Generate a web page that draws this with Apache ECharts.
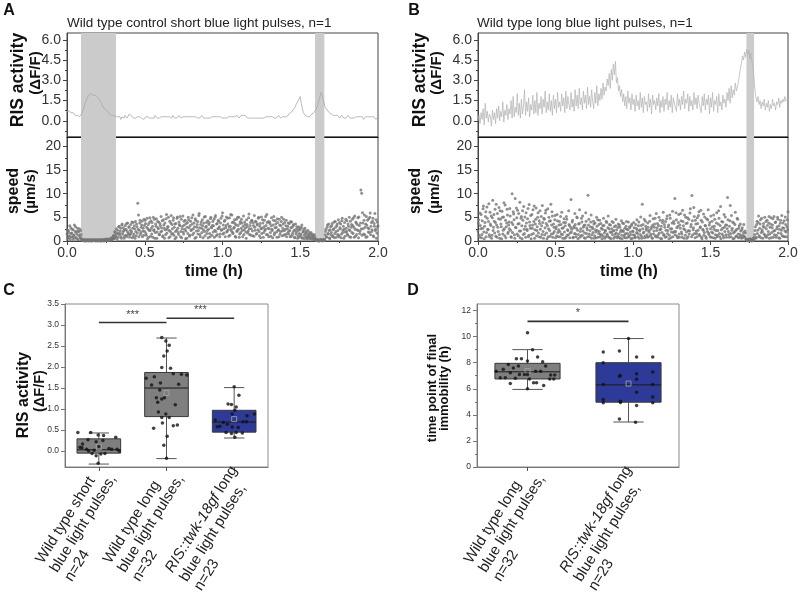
<!DOCTYPE html>
<html><head><meta charset="utf-8">
<script src="https://cdn.jsdelivr.net/npm/echarts@6/dist/echarts.min.js"></script>
<style>html,body{margin:0;padding:0;background:#fff}#c{width:800px;height:595px}</style>
</head><body><div id="c"></div><script>
// ---------- DATA ----------
// RIS activity traces (ΔF/F), sampled evenly over 0–2 h
const risA = [
0.7,0.6,0.7,0.6,0.6,0.5,0.6,0.5,0.4,0.5,0.4,0.5,0.3,0.4,0.5,0.7,0.9,1.2,1.4,1.6,
1.7,1.9,1.9,2.0,2.1,1.9,2.0,1.9,2.0,1.8,1.8,1.6,1.5,1.3,1.2,1.0,0.9,0.8,0.7,0.7,
0.6,0.5,0.6,0.4,0.5,0.4,0.3,0.3,0.2,0.3,0.2,0.3,0.1,0.3,0.2,0.2,0.4,0.3,0.2,0.3,
0.5,0.6,0.4,0.3,0.2,0.3,0.2,0.1,0.3,0.2,0.3,0.2,0.2,0.3,0.1,0.2,0.3,0.2,0.3,0.2,
0.2,0.3,0.2,0.3,0.2,0.4,0.3,0.2,0.3,0.2,0.3,0.3,0.2,0.3,0.4,0.3,0.2,0.3,0.2,0.3,
0.3,0.2,0.4,0.3,0.2,0.3,0.2,0.3,0.4,0.3,0.2,0.3,0.3,0.2,0.3,0.2,0.3,0.4,0.3,0.2,
0.3,0.2,0.3,0.2,0.3,0.3,0.2,0.3,0.2,0.3,0.4,0.3,0.2,0.3,0.2,0.3,0.2,0.3,0.2,0.3,
0.3,0.2,0.3,0.2,0.3,0.2,0.3,0.2,0.3,0.2,0.2,0.3,0.2,0.3,0.2,0.3,0.3,0.2,0.3,0.2,
0.3,0.2,0.3,0.3,0.4,0.3,0.2,0.3,0.4,0.3,0.4,0.5,0.4,0.3,0.2,0.3,0.2,0.3,0.2,0.3,
0.2,0.3,0.2,0.1,0.2,0.3,0.2,0.3,0.2,0.3,0.2,0.2,0.3,0.2,0.3,0.2,0.3,0.2,0.3,0.3,
0.2,0.3,0.2,0.3,0.4,0.3,0.2,0.3,0.3,0.4,0.3,0.4,0.3,0.4,0.5,0.4,0.6,0.7,0.8,0.9,
1.0,1.2,1.3,1.5,1.6,1.8,1.3,0.9,0.6,0.5,0.4,0.3,0.3,0.4,0.3,0.4,0.5,0.5,0.6,0.7,
0.8,1.0,1.2,1.5,1.8,2.1,1.9,1.6,1.3,1.0,0.9,0.8,0.7,0.6,0.6,0.5,0.5,0.4,0.5,0.4,
0.3,0.4,0.3,0.2,0.3,0.4,0.3,0.2,0.3,0.2,0.3,0.4,0.3,0.2,0.3,0.2,0.3,0.2,0.1,0.3,
0.2,0.3,0.2,0.3,0.2,0.3,0.1,0.2,0.3,0.2,0.3,0.2,0.3,0.2,0.3,0.2,0.3,0.2,0.1,0.2,
0.3];
const risB = [
0.0,0.4,-0.2,0.6,0.1,0.9,-0.3,1.3,0.2,0.7,-0.1,0.5,0.3,-0.4,0.8,0.1,0.6,-0.2,0.9,0.2,
1.1,0.0,0.7,0.3,1.4,-0.1,0.8,0.4,1.2,0.1,0.9,0.5,1.5,0.2,1.8,0.3,1.0,0.6,2.0,0.4,
1.3,0.2,1.6,0.5,1.1,2.3,0.4,1.4,0.7,1.7,0.3,1.2,0.8,1.9,0.5,1.5,0.6,2.1,0.4,1.3,
0.9,1.8,0.5,1.6,1.0,2.2,0.6,1.4,0.8,2.0,0.7,1.5,0.4,1.9,0.9,1.6,0.6,2.1,1.0,1.4,
0.7,2.0,1.1,1.7,0.6,2.2,0.9,1.8,1.2,0.8,2.1,1.0,1.6,0.7,2.3,1.1,1.9,0.9,2.4,1.2,
1.7,0.8,2.2,1.3,1.9,0.9,2.5,1.2,1.8,1.0,2.3,1.4,0.9,2.1,1.3,2.6,1.1,2.0,1.5,2.4,
1.6,2.8,1.9,2.5,2.2,3.1,2.6,3.5,2.4,3.8,3.0,4.2,3.4,4.4,2.8,3.2,2.2,2.6,1.8,2.3,
1.4,2.0,1.1,1.8,0.9,2.2,1.3,1.7,0.8,2.0,1.2,1.6,0.7,1.9,1.1,1.5,0.8,2.1,1.0,1.7,
0.6,1.8,1.2,1.4,0.7,2.0,1.0,1.6,0.5,1.9,1.2,1.5,0.8,1.7,1.1,2.0,0.6,1.5,1.0,1.8,
0.7,1.6,1.2,2.1,0.8,1.5,1.0,1.9,0.6,1.7,1.3,1.4,0.7,2.0,1.1,1.6,0.8,1.8,1.2,2.2,
0.9,1.6,1.3,2.0,0.7,1.8,1.1,1.5,0.8,2.1,1.2,1.7,0.9,1.9,1.3,1.4,0.6,1.8,1.1,2.0,
0.8,1.6,1.2,1.9,0.5,1.7,1.0,2.1,0.7,1.5,1.2,1.8,0.6,2.0,1.1,1.4,0.8,1.9,1.3,1.6,
1.0,2.1,1.5,2.4,1.3,2.6,1.7,2.3,1.9,2.8,2.2,2.5,2.9,3.4,3.9,4.3,4.8,4.5,5.1,4.7,
5.3,4.9,5.2,4.6,5.0,4.4,4.1,3.2,2.3,1.7,1.4,1.8,1.2,1.5,0.9,1.4,1.1,1.6,0.8,1.3,
1.0,1.5,0.7,1.2,0.9,1.6,1.1,1.3,0.8,1.4,1.2,1.7,1.0,1.5,1.3,1.6,1.4,1.8,1.5,1.6,
1.5];
// speed (µm/s): two interleaved readings per step over 0–2 h
const speedA = [
1.5,0.8,2.2,1.1,0.4,2.8,1.7,0.9,2.4,1.3,0.6,3.0,1.9,0.5,2.1,1.2,2.6,0.7,1.4,0.2,
0.3,0.1,0.2,0.1,0.0,0.2,0.1,0.3,0.1,0.2,0.0,0.1,0.2,0.1,0.3,0.1,0.2,0.0,0.1,0.2,
0.1,0.3,0.2,0.1,0.0,0.2,0.1,0.3,0.2,0.1,0.4,0.2,0.1,0.3,0.2,0.5,0.3,0.2,0.6,0.4,
1.2,0.7,1.8,0.9,1.5,2.3,0.8,3.1,1.6,2.7,0.6,3.6,1.9,2.2,1.0,3.3,2.5,0.9,3.8,1.7,
2.9,1.3,3.5,2.0,0.7,3.9,1.5,2.6,4.1,1.1,3.0,8.0,5.5,2.3,4.4,1.8,3.4,0.9,2.7,4.6,
2.0,3.7,1.2,4.8,2.6,0.8,3.9,2.2,4.3,1.5,3.1,5.0,2.4,0.6,3.6,4.7,1.9,2.8,4.0,1.3,
3.3,5.2,2.1,0.9,4.5,2.7,3.8,1.4,5.6,2.5,3.0,0.7,4.2,2.0,5.4,3.5,1.6,4.9,2.9,0.5,
3.7,2.3,5.1,1.8,4.0,3.2,0.9,4.6,2.6,5.3,1.5,3.4,4.4,2.1,0.6,3.9,5.0,2.8,1.2,4.2,
2.4,3.6,5.5,1.7,3.0,4.7,0.8,2.9,4.1,2.2,5.8,1.4,3.5,2.7,4.5,0.7,3.8,2.0,5.2,3.1,
1.6,4.3,2.5,3.9,0.9,5.0,2.8,3.3,1.9,4.6,2.3,5.4,1.1,3.7,2.6,4.2,3.0,1.5,4.8,2.4,
6.0,3.4,1.7,4.4,2.8,5.1,2.1,3.6,1.0,4.9,3.1,2.5,5.5,1.8,4.0,2.9,3.7,0.8,4.6,2.2,
3.3,5.0,1.5,4.1,2.7,3.8,0.9,5.3,2.4,3.5,1.9,4.5,3.0,2.1,5.7,1.4,3.9,2.6,4.3,1.1,
3.2,5.4,2.3,4.0,1.6,3.6,4.8,2.0,3.1,0.7,5.1,2.7,3.8,1.8,4.4,2.5,3.3,5.6,1.3,4.1,
2.6,3.7,1.0,4.9,2.2,3.4,5.2,1.7,4.3,2.9,0.8,3.9,2.4,4.6,1.5,3.2,5.0,2.1,3.6,1.2,
3.9,2.5,4.4,1.6,3.1,2.0,3.7,0.9,2.8,4.0,1.4,3.3,2.2,0.7,3.6,1.9,2.6,1.1,3.0,0.8,
2.4,1.5,3.4,0.6,2.0,1.2,2.7,0.9,1.7,0.4,2.2,1.0,1.4,0.5,1.8,0.7,1.1,0.3,1.3,0.6,
0.2,0.1,0.3,0.1,0.0,0.2,0.1,0.3,0.1,0.2,0.1,0.4,1.3,2.5,0.8,3.4,1.6,2.2,0.5,3.0,
1.8,3.7,1.1,2.6,0.7,4.1,2.0,3.2,1.4,4.5,0.9,2.8,3.6,1.5,4.8,2.3,0.6,3.9,1.9,2.7,
4.3,1.2,3.1,5.0,2.2,0.8,3.5,4.6,1.6,2.9,5.3,1.0,3.8,2.4,4.9,0.7,3.3,2.1,10.8,10.1,
6.0,2.6,4.4,1.3,3.6,5.2,0.9,2.8,4.7,1.8,5.9,3.1,2.0,4.2,1.1,3.7,5.8,2.5,0.6,4.0,
3.2];
const speedA2 = [
2.3,0.6,1.8,3.2,0.9,1.6,2.5,0.4,1.1,3.4,2.0,0.8,1.5,2.7,0.3,1.9,1.0,2.2,0.5,0.3,
0.1,0.2,0.0,0.3,0.1,0.1,0.2,0.0,0.2,0.1,0.3,0.1,0.0,0.2,0.1,0.2,0.1,0.3,0.1,0.0,
0.2,0.1,0.0,0.2,0.3,0.1,0.2,0.0,0.1,0.3,0.1,0.2,0.4,0.1,0.3,0.2,0.4,0.7,0.3,1.0,
0.5,2.0,1.1,2.6,0.4,1.7,3.0,1.3,2.1,0.9,3.4,1.5,2.8,0.6,2.4,1.2,3.7,2.0,1.4,3.0,
0.8,2.3,1.6,4.0,2.7,1.0,3.2,0.6,2.0,3.6,1.7,2.5,0.9,3.8,1.4,2.9,4.2,2.1,1.2,3.3,
4.4,1.6,2.9,0.5,3.5,2.3,4.9,1.0,2.7,3.9,0.8,2.2,4.6,1.8,3.1,0.6,4.1,2.6,1.4,3.7,
1.9,2.8,4.3,1.1,3.4,0.6,2.4,4.7,1.7,3.0,5.0,2.2,0.9,3.8,1.5,2.6,4.4,1.2,3.6,2.0,
0.8,4.8,2.7,1.4,3.5,5.2,2.0,0.7,3.1,1.9,4.2,2.5,0.5,3.7,2.9,1.6,4.5,1.0,3.3,2.2,
4.9,1.3,2.6,3.8,0.6,4.4,2.1,3.5,1.5,5.4,2.8,0.9,4.0,1.8,3.2,2.4,5.1,1.1,2.9,3.9,
2.2,0.7,3.5,1.6,4.7,2.9,1.2,4.1,3.2,0.8,5.0,2.0,3.6,1.4,4.4,2.7,0.9,3.8,2.3,5.3,
1.5,2.6,4.2,0.9,3.3,1.9,4.8,2.4,3.0,1.2,5.6,2.1,3.9,1.6,2.7,4.5,1.0,3.4,2.0,5.0,
2.5,0.8,3.7,1.8,4.6,2.2,3.1,1.4,4.0,2.8,0.6,3.5,1.7,4.9,2.6,3.3,1.2,4.4,2.1,3.8,
1.0,2.9,4.2,1.5,3.4,2.4,5.0,1.1,3.7,2.6,1.6,4.5,0.8,3.0,2.2,5.2,1.4,3.9,2.7,0.9,
4.0,1.8,3.2,2.5,0.7,4.4,1.3,2.8,3.6,1.9,4.7,2.3,0.9,3.4,2.0,4.1,1.1,2.7,4.6,2.2,
1.4,3.2,0.9,2.6,3.8,1.5,2.2,4.1,1.0,2.9,1.8,3.5,0.8,2.4,1.5,3.0,0.6,2.2,1.6,2.7,
1.1,2.9,0.7,1.9,2.5,0.5,1.6,2.1,0.8,1.3,0.6,1.8,0.9,1.5,0.4,1.0,1.4,0.6,0.9,0.3,
0.1,0.2,0.1,0.0,0.2,0.1,0.3,0.1,0.0,0.2,0.1,0.2,2.0,0.9,2.9,1.5,3.6,0.7,2.4,1.3,
3.2,0.9,2.4,4.0,1.6,2.9,0.8,3.6,2.2,1.2,3.9,2.6,0.7,4.3,1.8,3.1,2.5,1.0,4.6,2.0,
1.5,3.6,2.4,0.9,4.2,2.9,1.8,3.3,4.9,0.8,2.5,4.0,1.4,3.5,2.2,5.1,1.6,3.8,2.6,1.2,
3.8,1.5,5.5,2.9,0.8,3.4,4.4,1.9,2.6,5.0,1.3,3.9,2.4,4.8,0.9,3.1,2.2,4.5,1.7,3.0];
const speedB = [
2.1,4.5,0.8,3.3,5.6,1.4,2.7,7.4,0.5,3.9,6.2,1.8,4.8,2.4,7.9,0.9,3.6,5.3,1.2,8.6,
2.9,4.2,6.7,1.0,3.4,5.8,2.0,7.1,0.6,4.6,3.0,6.3,1.5,5.1,2.6,7.6,0.7,3.8,5.5,1.9,
4.0,6.9,2.3,0.8,10.0,3.5,5.7,1.3,9.0,2.8,4.9,6.5,1.1,3.7,8.2,2.1,5.2,0.5,4.4,7.3,
1.6,3.1,6.0,2.5,4.7,0.9,7.7,3.3,5.4,1.4,2.7,6.6,4.1,0.6,3.6,7.0,2.2,5.0,1.7,4.3,
6.4,0.8,3.2,7.5,2.0,4.8,1.3,5.9,3.7,0.5,6.8,2.6,4.2,1.0,7.8,3.4,5.3,1.6,2.9,4.5,
0.7,3.0,5.6,1.8,2.4,4.1,0.9,3.5,6.1,1.4,2.8,4.7,0.6,3.9,5.2,1.2,2.2,6.4,3.3,1.7,
8.8,2.5,4.4,0.8,3.1,5.8,1.5,2.7,4.9,0.5,3.6,6.6,2.0,1.1,4.0,5.3,2.9,0.7,3.4,6.0,
1.6,2.4,9.7,4.6,0.9,3.0,5.5,1.3,2.6,4.2,0.6,3.8,1.9,5.0,2.2,0.8,3.5,4.4,1.4,2.7,
0.5,3.2,4.8,1.7,2.3,0.9,3.9,1.2,5.3,2.6,0.7,3.4,1.8,4.1,2.1,0.6,3.0,1.5,4.6,2.4,
1.0,3.6,0.8,2.9,1.9,4.3,0.5,2.2,3.7,1.3,0.7,3.1,2.5,1.6,4.0,0.9,2.8,1.4,3.3,0.6,
2.0,3.9,1.2,0.8,2.7,4.5,1.6,3.2,0.6,2.4,5.1,1.0,7.8,3.5,1.9,0.7,4.2,2.6,1.3,3.8,
0.9,2.3,5.4,1.5,3.0,0.6,4.7,2.1,3.6,1.1,5.8,2.8,0.8,3.3,1.7,4.4,2.5,0.5,3.9,6.1,
1.4,2.9,4.1,0.9,5.3,2.2,3.4,1.2,4.8,0.7,2.6,6.3,1.8,3.7,9.0,2.0,4.5,1.0,3.1,5.6,
0.8,2.7,4.3,1.5,6.5,3.2,0.6,2.4,5.0,1.9,3.8,0.9,4.6,2.1,6.8,3.5,9.6,1.3,2.8,5.2,
0.7,3.6,1.6,4.9,2.3,6.2,1.1,3.0,4.4,0.5,2.5,5.7,1.8,3.3,0.9,4.7,2.0,6.6,1.4,3.9,
2.6,0.8,4.2,1.7,5.5,3.1,0.6,2.2,6.0,1.2,3.6,4.8,0.9,7.3,2.4,1.5,4.0,0.7,2.9,5.1,
1.3,3.4,9.2,2.0,0.8,4.3,1.6,5.4,2.7,0.5,3.8,1.9,6.1,1.0,2.5,4.6,0.7,3.2,1.4,2.1,
0.6,2.8,1.2,3.5,0.9,1.7,0.4,0.2,0.1,0.3,0.1,0.5,0.2,0.0,0.3,0.6,0.2,1.4,3.0,0.8,
4.2,2.3,5.3,1.1,3.6,0.7,4.8,2.0,3.1,1.5,5.0,0.9,2.6,4.4,1.3,3.8,0.6,2.9,4.9,1.8,
3.4,0.8,5.2,2.2,4.0,1.2,3.0,4.6,0.7,2.5,3.8,1.6,5.4,2.8,1.0,4.3,2.1,3.5,0.9,4.5,
6.2];
const speedB2 = [
3.8,1.2,5.9,2.6,0.7,4.3,6.8,1.9,3.1,5.2,0.9,7.2,2.5,4.1,1.3,6.1,3.3,0.6,4.9,2.2,
5.6,1.7,3.9,7.8,0.8,2.9,4.7,1.4,6.4,3.6,0.5,5.0,2.3,8.1,1.1,4.4,3.0,6.7,1.6,3.4,
2.6,5.3,0.9,3.9,1.8,6.2,4.5,0.6,2.9,7.0,1.5,3.6,5.8,2.1,0.7,4.8,3.2,6.4,1.4,2.5,
5.1,0.8,3.8,2.2,6.9,1.2,4.0,2.7,0.5,5.6,3.4,1.6,7.4,2.4,4.6,1.1,3.0,6.0,0.9,3.7,
2.5,5.2,1.4,3.9,0.6,4.6,2.8,6.5,1.7,3.3,0.9,5.0,2.2,4.3,1.5,6.2,0.8,3.6,2.0,5.4,
2.6,1.1,4.3,0.9,3.4,2.0,5.2,1.5,2.7,0.6,3.9,1.9,3.2,0.8,4.6,2.4,1.3,3.5,0.7,2.9,
1.9,4.0,0.7,2.8,1.6,3.5,0.9,5.1,2.3,1.4,3.7,0.8,2.6,4.8,1.2,2.1,3.3,1.7,0.6,4.2,
2.8,0.9,3.4,1.5,2.2,4.0,0.6,2.9,1.8,3.6,1.1,2.4,0.7,3.1,4.5,1.6,2.0,0.9,3.7,1.3,
2.5,1.0,3.3,0.6,2.1,4.2,1.5,2.8,0.8,3.5,1.9,0.5,2.6,1.3,3.9,2.2,0.9,3.2,1.7,0.7,
2.9,1.5,3.4,0.6,2.3,1.2,3.8,2.0,0.9,2.7,1.6,4.1,0.7,2.4,1.1,3.0,1.9,0.5,3.6,2.1,
1.3,2.8,0.7,3.5,1.8,2.4,0.9,4.0,2.1,1.4,3.3,0.6,2.6,1.7,4.6,1.0,3.1,2.3,0.8,2.9,
1.9,4.2,1.1,2.6,0.7,3.4,1.5,2.9,4.8,0.9,2.2,3.7,1.3,5.0,2.4,0.6,3.1,1.8,4.4,1.2,
3.5,0.8,2.3,4.7,1.6,3.0,0.5,5.5,2.6,1.9,3.8,0.9,4.2,2.0,1.3,6.0,2.8,0.7,3.9,1.5,
3.4,5.8,1.9,0.8,4.1,2.6,5.5,1.2,3.7,0.6,4.9,2.2,1.5,5.9,3.0,0.9,4.3,2.4,7.1,1.6,
4.4,2.1,0.9,3.7,5.4,1.4,2.8,6.5,0.8,4.0,2.3,1.2,5.1,3.2,0.6,2.6,4.5,1.7,3.4,0.9,
5.3,1.9,3.0,0.7,2.5,4.6,1.3,3.8,0.9,2.2,6.4,1.6,3.3,0.5,4.1,2.7,1.1,5.6,2.0,3.4,
0.8,2.6,4.5,1.4,3.1,7.5,0.9,2.3,4.0,1.7,0.6,3.5,2.2,1.0,4.8,1.5,2.7,0.8,3.6,1.1,
2.4,0.7,1.8,0.9,2.1,0.5,0.2,0.1,0.3,0.0,0.2,0.4,0.1,0.3,0.2,0.1,0.8,2.2,0.6,3.5,
1.6,3.9,0.9,2.7,4.5,1.8,2.4,0.6,3.7,2.9,1.2,4.1,0.8,3.3,2.0,5.2,1.5,3.6,0.7,2.8,
4.7,2.1,1.3,3.9,0.8,2.6,5.0,1.7,3.2,0.6,4.4,2.3,1.1,3.8,2.7,0.9,5.1,1.9,3.0,2.4];
// blue light pulse intervals (h)
const shadeA = [[0.09, 0.315], [1.595, 1.655]];
const shadeB = [[1.732, 1.781]];
// tick values
const timeTicks = [0, 0.5, 1, 1.5, 2];
const timeMinor = [0.25, 0.75, 1.25, 1.75];
const risTicks = [0, 1.5, 3, 4.5, 6];
const risMinor = [-0.75, 0.75, 2.25, 3.75, 5.25];
const speedTicks = [0, 5, 10, 15, 20];
const speedMinor = [2.5, 7.5, 12.5, 17.5];
const ticksC = [0, 0.5, 1, 1.5, 2, 2.5, 3, 3.5];
const ticksD = [0, 2, 4, 6, 8, 10, 12];
const minorD = [1, 3, 5, 7, 9, 11];

// Panel C
const catsC = ['Wild type short\nblue light pulses,\nn=24', 'Wild type long\nblue light pulses,\nn=32', 'RIS::twk-18gf long\nblue light pulses,\nn=23'];
const statsC = [[-0.31, -0.05, 0.03, 0.29, 0.43], [-0.18, 0.82, 1.50, 1.87, 2.69], [0.31, 0.45, 0.69, 0.97, 1.51]]; // min,q1,median,q3,max
const meansC = [0.09, 1.38, 0.76];
const ptsC1 = [0.44,0.44,0.38,0.37,0.33,0.27,0.22,0.25,0.17,0.09,0.08,0.04,0.11,0.02,0.06,0.04,0.04,0.00,-0.11,-0.07,-0.06,-0.06,0.00,-0.29];
const jitC1 = [-0.31,-0.12,-0.01,0.07,0.25,-0.16,-0.04,0.06,-0.24,-0.28,-0.25,-0.18,0,-0.07,0.15,0.19,0.27,0.30,-0.04,0.03,0.09,-0.10,-0.15,-0.01];
const ptsC2 = [2.70,2.62,2.52,2.38,2.26,1.99,1.97,1.73,1.77,1.57,1.84,1.83,1.81,1.59,1.45,1.27,1.24,1.27,1.16,1.10,0.93,0.88,0.80,0.80,0.67,0.60,0.62,0.54,0.35,0.14,-0.17,1.62];
const jitC2 = [-0.07,-0.01,0.04,0.01,-0.04,-0.07,0.06,-0.30,-0.18,-0.22,0.10,0.22,0.30,0.18,-0.10,-0.15,-0.07,-0.03,-0.13,0.13,-0.12,-0.01,-0.07,0.04,-0.06,0.10,0.16,-0.19,0.01,-0.04,0,-0.09];
const ptsC3 = [1.53,1.33,1.12,1.11,1.05,0.97,0.88,0.88,0.74,0.84,0.70,0.70,0.68,0.64,0.59,0.58,0.57,0.56,0.44,0.42,0.43,0.44,0.33];
const jitC3 = [0,0.07,-0.09,-0.04,0.03,0.01,0.30,-0.03,-0.28,0.19,0.18,0.13,-0.16,-0.10,-0.21,-0.25,-0.03,0.06,-0.12,-0.04,0.12,0.03,0.01];
const sigC = [[0, 1, 3.06], [1, 2, 3.16]];
const sigCLabels = ['***', '***'];

// Panel D
const catsD = ['Wild type long\nblue light pulses,\nn=32', 'RIS::twk-18gf long\nblue light pulses,\nn=23'];
const statsD = [[5.95, 6.75, 7.3, 7.95, 9.0], [3.45, 4.97, 6.3, 8.0, 9.85]];
const meansD = [7.35, 6.4];
const ptsD1 = [10.3,9.0,7.35,6.85,6.85,7.5,7.87,7.23,7.6,8.3,7.74,7.1,8.3,7.1,6.8,6.4,8.12,7.1,6.75,6.46,8.43,6.46,7.35,7.35,8.08,7.74,6.25,7.05,7.05,6.75,6.75,6.0];
const jitD1 = [0,0.05,-0.31,-0.27,-0.22,-0.24,-0.19,-0.17,-0.14,-0.11,-0.09,-0.08,-0.06,-0.03,-0.12,-0.17,0,0,0.02,0.06,0.10,0.09,0.08,0.13,0.15,0.18,0.16,0.23,0.27,0.22,0.26,0];
const ptsD2 = [9.85,8.82,8.9,8.43,8.43,8.0,7.02,6.95,7.15,7.28,6.72,6.33,6.33,5.74,5.36,5.18,4.92,5.05,4.95,4.92,4.72,3.69,3.43];
const jitD2 = [0,-0.25,-0.09,0.08,0.24,-0.25,-0.08,-0.09,0.08,0.24,0.08,-0.25,0.24,0.08,0.24,-0.25,-0.25,-0.08,-0.08,0.24,0.08,-0.09,0.07];
const sigD = [[0, 1, 11.17]];
const sigDLabels = ['*'];

// ---------- CHART ----------
const FONT = '"Liberation Sans", Arial, Helvetica, sans-serif';
const AX = '#444';
const chart = echarts.init(document.getElementById('c'), null, {renderer: 'canvas', width: 800, height: 595});

function timeSeries(arr) { const n = arr.length - 1; return arr.map((v, i) => [i * 2 / n, v]); }
function timeSeriesHalf(arr, ref) { const n = ref.length - 1; return arr.map((v, i) => [(i + 0.5) * 2 / n, v]); }
function jittered(pts, jit, cat) { return pts.map((v, k) => [cat + jit[k], v]); }
function fmtCat(v) {
  return v.split('\n').map(line => line.indexOf('RIS::twk-18gf') === 0
    ? '{i|RIS::twk-18gf}{n|' + line.slice(13) + '}' : '{n|' + line + '}').join('\n');
}

function boxRender(colors) {
  return function (params, api) {
    const c = api.value(0);
    const band = api.size([1, 0])[0];
    const bw = band * 0.645, cw = band * 0.3;
    const px = api.coord([c, api.value(3)])[0];
    const y = i => api.coord([c, api.value(i)])[1];
    const yMin = y(1), yQ1 = y(2), yMed = y(3), yQ3 = y(4), yMax = y(5), yMean = y(6);
    const ls = {stroke: '#555', lineWidth: 1};
    return {type: 'group', children: [
      {type: 'line', shape: {x1: px, y1: yMax, x2: px, y2: yQ3}, style: ls},
      {type: 'line', shape: {x1: px, y1: yQ1, x2: px, y2: yMin}, style: ls},
      {type: 'line', shape: {x1: px - cw / 2, y1: yMax, x2: px + cw / 2, y2: yMax}, style: ls},
      {type: 'line', shape: {x1: px - cw / 2, y1: yMin, x2: px + cw / 2, y2: yMin}, style: ls},
      {type: 'rect', shape: {x: px - bw / 2, y: yQ3, width: bw, height: yQ1 - yQ3}, style: {fill: colors[params.dataIndex], stroke: '#3a3a3a', lineWidth: 1}},
      {type: 'line', shape: {x1: px - bw / 2, y1: yMed, x2: px + bw / 2, y2: yMed}, style: {stroke: '#1a1a1a', lineWidth: 1}},
      {type: 'rect', shape: {x: px - 2.5, y: yMean - 2.5, width: 5, height: 5}, style: {fill: 'none', stroke: '#a8a8a8', lineWidth: 0.8}}
    ]};
  };
}
function sigRender(labels) {
  return function (params, api) {
    const p1 = api.coord([api.value(0), api.value(2)]);
    const p2 = api.coord([api.value(1), api.value(2)]);
    return {type: 'group', children: [
      {type: 'line', shape: {x1: p1[0], y1: p1[1], x2: p2[0], y2: p2[1]}, style: {stroke: '#333', lineWidth: 1.6}},
      {type: 'text', x: (p1[0] + p2[0]) / 2, y: p1[1] - 8, style: {text: labels[params.dataIndex], align: 'center', verticalAlign: 'middle', fontSize: 11, fill: '#444', fontFamily: FONT}}
    ]};
  };
}

const gridBase = {show: true, borderColor: AX, borderWidth: 1, containLabel: false, outerBoundsMode: 'none'};
const grids = [
  Object.assign({left: 67, top: 33, width: 311, height: 104}, gridBase),
  Object.assign({left: 67, top: 137, width: 311, height: 104}, gridBase),
  Object.assign({left: 478, top: 33, width: 310, height: 104}, gridBase),
  Object.assign({left: 478, top: 137, width: 310, height: 104}, gridBase),
  Object.assign({left: 65, top: 304, width: 203, height: 163}, gridBase, {borderColor: '#8a8a8a'}),
  Object.assign({left: 477, top: 304, width: 202, height: 163}, gridBase, {borderColor: '#8a8a8a'})
];

function topX(g) {
  return {type: 'value', gridIndex: g, min: 0, max: 2, position: 'bottom', splitLine: {show: false},
    axisLine: {show: true, onZero: false, lineStyle: {color: '#111'}}, axisTick: {show: false}, axisLabel: {show: false}};
}
function timeX(g) {
  return {type: 'value', gridIndex: g, min: 0, max: 2, position: 'bottom', splitLine: {show: false},
    axisLine: {show: true, onZero: false, lineStyle: {color: AX}},
    axisTick: {show: true, customValues: timeTicks, length: 4, lineStyle: {color: AX}},
    axisLabel: {customValues: timeTicks, formatter: v => v.toFixed(1), fontSize: 14, color: '#333', margin: 5, fontFamily: FONT}};
}
function timeMinorX(g) {
  return {type: 'value', gridIndex: g, min: 0, max: 2, position: 'bottom', splitLine: {show: false},
    axisLine: {show: false, onZero: false}, axisLabel: {show: false},
    axisTick: {show: true, customValues: timeMinor, length: 2, lineStyle: {color: AX}}};
}
function majorY(g, min, max, ticks, fmt, fs, color) {
  return {type: 'value', gridIndex: g, min: min, max: max, position: 'left', splitLine: {show: false},
    axisLine: {show: true, onZero: false, lineStyle: {color: color}},
    axisTick: {show: true, customValues: ticks, length: 4, lineStyle: {color: color}},
    axisLabel: {customValues: ticks, formatter: fmt, fontSize: fs, color: '#333', margin: 6, fontFamily: FONT}};
}
function minorY(g, min, max, ticks, color) {
  return {type: 'value', gridIndex: g, min: min, max: max, position: 'left', splitLine: {show: false},
    axisLine: {show: false, onZero: false}, axisLabel: {show: false},
    axisTick: {show: true, customValues: ticks, length: 2, lineStyle: {color: color}}};
}
function catX(g, cats) {
  return {type: 'category', gridIndex: g, data: cats, position: 'bottom', boundaryGap: true,
    axisLine: {show: true, onZero: false, lineStyle: {color: '#777'}},
    axisTick: {show: true, alignWithLabel: true, length: 4, lineStyle: {color: '#555'}},
    axisLabel: {interval: 0, rotate: 58, align: 'right', verticalAlign: 'top', margin: -16, padding: [0, 14, 0, 0],
      fontSize: 15, lineHeight: 17, color: '#222', fontFamily: FONT, formatter: fmtCat,
      rich: {
        n: {align: 'left', fontSize: 15, lineHeight: 17, fontFamily: FONT, color: '#222'},
        i: {align: 'left', fontStyle: 'italic', fontSize: 15, lineHeight: 17, fontFamily: FONT, color: '#222'}
      }}};
}
function hiddenX(g, min, max) {
  return {type: 'value', gridIndex: g, min: min, max: max, show: false, axisLine: {onZero: false}};
}
const f1 = v => v.toFixed(1), f0 = v => String(v);

const xAxes = [
  topX(0), timeX(1), topX(2), timeX(3),
  catX(4, catsC), hiddenX(4, -0.5, 2.5),
  catX(5, catsD), hiddenX(5, -0.5, 1.5),
  timeMinorX(1), timeMinorX(3)
];
const yAxes = [
  majorY(0, -1.2, 6.5, risTicks, f1, 14, AX), minorY(0, -1.2, 6.5, risMinor, AX),
  majorY(1, 0, 22, speedTicks, f0, 14, AX), minorY(1, 0, 22, speedMinor, AX),
  majorY(2, -1.2, 6.5, risTicks, f1, 14, AX), minorY(2, -1.2, 6.5, risMinor, AX),
  majorY(3, 0, 22, speedTicks, f0, 14, AX), minorY(3, 0, 22, speedMinor, AX),
  majorY(4, -0.38, 3.5, ticksC, f1, 8.5, '#777'),
  majorY(5, 0, 12.5, ticksD, f0, 8.5, '#777'), minorY(5, 0, 12.5, minorD, '#777')
];

function shadeSeries(xi, yi, shades) {
  return {type: 'line', xAxisIndex: xi, yAxisIndex: yi, data: [], z: 1, silent: true,
    markArea: {silent: true, itemStyle: {color: '#cbcbcb'}, data: shades.map(s => [{xAxis: s[0]}, {xAxis: s[1]}])}};
}
function speedSeries(xi, yi, data) {
  return {type: 'scatter', xAxisIndex: xi, yAxisIndex: yi, data: data, symbolSize: 3, z: 3, silent: true,
    itemStyle: {color: '#757575'}};
}

const series = [
  shadeSeries(0, 0, shadeA), shadeSeries(1, 2, shadeA), shadeSeries(2, 4, shadeB), shadeSeries(3, 6, shadeB),
  {type: 'line', xAxisIndex: 0, yAxisIndex: 0, data: timeSeries(risA), showSymbol: false, z: 3, silent: true,
    lineStyle: {color: '#a8a8a8', width: 0.8}},
  {type: 'line', xAxisIndex: 2, yAxisIndex: 4, data: timeSeries(risB), showSymbol: false, z: 3, silent: true,
    lineStyle: {color: '#b0b0b0', width: 0.7}},
  speedSeries(1, 2, timeSeries(speedA)), speedSeries(1, 2, timeSeriesHalf(speedA2, speedA)),
  speedSeries(3, 6, timeSeries(speedB)), speedSeries(3, 6, timeSeriesHalf(speedB2, speedB)),
  // C
  {type: 'custom', xAxisIndex: 5, yAxisIndex: 8, z: 2, silent: true,
    renderItem: boxRender(['#7f7f7f', '#7f7f7f', '#2d3a97']),
    data: statsC.map((s, i) => [i].concat(s, [meansC[i]])), encode: {x: 0, y: [1, 2, 3, 4, 5]}},
  {type: 'scatter', xAxisIndex: 5, yAxisIndex: 8, z: 3, silent: true, symbolSize: 3.5, itemStyle: {color: '#111'},
    data: jittered(ptsC1, jitC1, 0).concat(jittered(ptsC2, jitC2, 1), jittered(ptsC3, jitC3, 2))},
  {type: 'custom', xAxisIndex: 5, yAxisIndex: 8, z: 4, silent: true, renderItem: sigRender(sigCLabels),
    data: sigC, encode: {x: [0, 1], y: 2}},
  // D
  {type: 'custom', xAxisIndex: 7, yAxisIndex: 9, z: 2, silent: true,
    renderItem: boxRender(['#7f7f7f', '#2d3a97']),
    data: statsD.map((s, i) => [i].concat(s, [meansD[i]])), encode: {x: 0, y: [1, 2, 3, 4, 5]}},
  {type: 'scatter', xAxisIndex: 7, yAxisIndex: 9, z: 3, silent: true, symbolSize: 3.5, itemStyle: {color: '#111'},
    data: jittered(ptsD1, jitD1, 0).concat(jittered(ptsD2, jitD2, 1))},
  {type: 'custom', xAxisIndex: 7, yAxisIndex: 9, z: 4, silent: true, renderItem: sigRender(sigDLabels),
    data: sigD, encode: {x: [0, 1], y: 2}}
];

const R = Math.PI / 2;
function T(x, y, text, size, o) {
  o = o || {};
  return {type: 'text', x: x, y: y, rotation: o.rot || 0, silent: true,
    style: {text: text, fontSize: size, fontWeight: o.bold ? 'bold' : 'normal', fontFamily: FONT,
      fill: o.color || '#111', align: o.align || 'center', verticalAlign: 'middle'}};
}
const texts = [
  T(9, 11, 'A', 16, {bold: true}), T(414, 11, 'B', 16, {bold: true}),
  T(9, 291, 'C', 16, {bold: true}), T(413, 291, 'D', 16, {bold: true}),
  T(67, 23, 'Wild type control short blue light pulses, n=1', 13.5, {align: 'left', color: '#222'}),
  T(477, 23, 'Wild type long blue light pulses, n=1', 13.5, {align: 'left', color: '#222'}),
  T(18.5, 80, 'RIS activity', 17.5, {bold: true, rot: R}), T(36, 73, '(ΔF/F)', 15, {bold: true, rot: R}),
  T(13.5, 191, 'speed', 16, {bold: true, rot: R}), T(31, 191.5, '(µm/s)', 15, {bold: true, rot: R}),
  T(420, 80, 'RIS activity', 17.5, {bold: true, rot: R}), T(437, 73, '(ΔF/F)', 15, {bold: true, rot: R}),
  T(415.5, 191, 'speed', 16, {bold: true, rot: R}), T(435, 191.5, '(µm/s)', 15, {bold: true, rot: R}),
  T(214, 272, 'time (h)', 16, {bold: true}), T(629, 272, 'time (h)', 16, {bold: true}),
  T(24, 395, 'RIS activity', 16, {bold: true, rot: R}), T(40, 391, '(ΔF/F)', 14.5, {bold: true, rot: R}),
  T(432, 388, 'time point of final', 13, {bold: true, rot: R}), T(444, 388.5, 'immobility (h)', 13, {bold: true, rot: R})
];

chart.setOption({
  animation: false,
  backgroundColor: '#ffffff',
  textStyle: {fontFamily: FONT},
  grid: grids,
  xAxis: xAxes,
  yAxis: yAxes,
  series: series,
  graphic: texts
});
</script></body></html>
